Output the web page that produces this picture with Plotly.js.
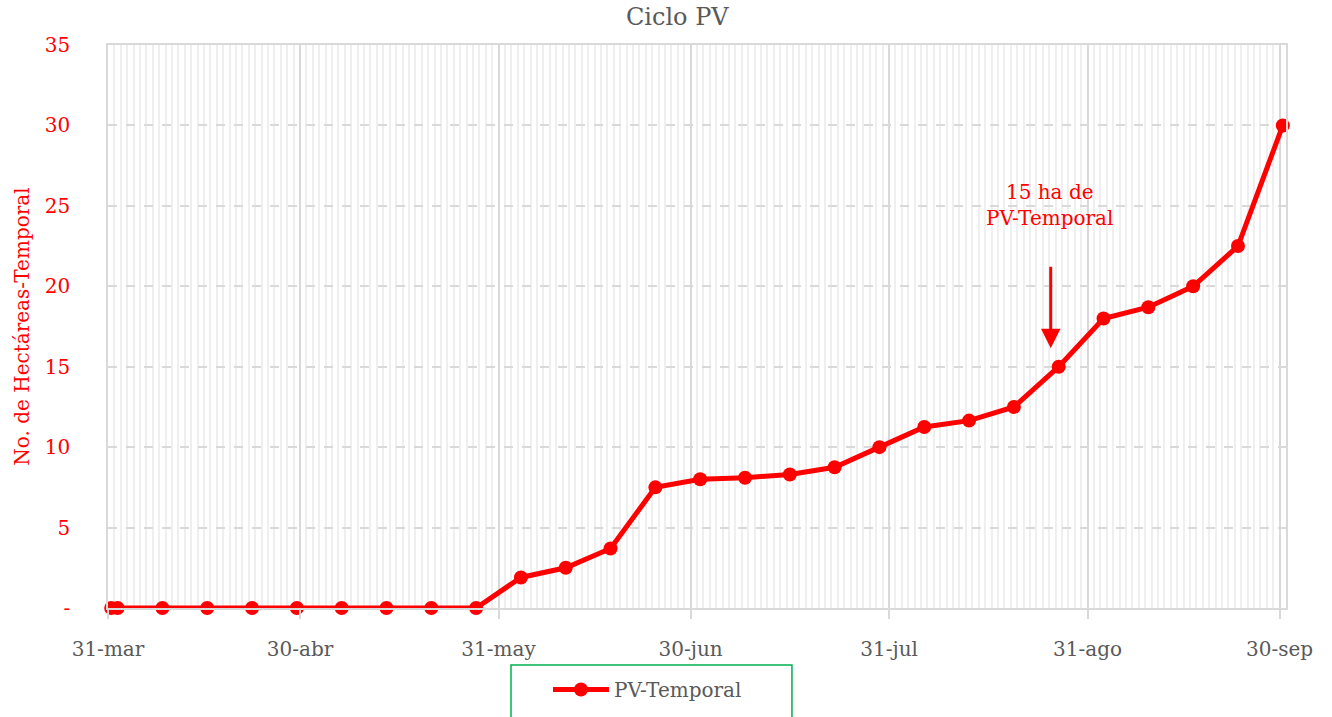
<!DOCTYPE html>
<html>
<head>
<meta charset="utf-8">
<script src="https://cdn.plot.ly/plotly-3.0.1.min.js"></script>
<style>
  html, body { margin: 0; padding: 0; background: #ffffff; }
  #chart { width: 1332px; height: 717px; }
</style>
</head>
<body>
<div id="chart"></div>
<script>
// ---- data ----
const dates = [
  '2023-03-31T12:00', '2023-04-01T12:00', '2023-04-08T12:00', '2023-04-15T12:00',
  '2023-04-22T12:00', '2023-04-29T12:00', '2023-05-06T12:00', '2023-05-13T12:00',
  '2023-05-20T12:00', '2023-05-27T12:00', '2023-06-03T12:00', '2023-06-10T12:00',
  '2023-06-17T12:00', '2023-06-24T12:00', '2023-07-01T12:00', '2023-07-08T12:00',
  '2023-07-15T12:00', '2023-07-22T12:00', '2023-07-29T12:00', '2023-08-05T12:00',
  '2023-08-12T12:00', '2023-08-19T12:00', '2023-08-26T12:00', '2023-09-02T12:00',
  '2023-09-09T12:00', '2023-09-16T12:00', '2023-09-23T12:00', '2023-09-30T12:00'
];
const pvTemporal = [
  0, 0, 0, 0, 0, 0, 0, 0, 0, 0,
  1.9, 2.5, 3.7, 7.5, 8.0, 8.1, 8.3, 8.75, 10.0, 11.25,
  11.65, 12.5, 15.0, 18.0, 18.7, 20.0, 22.5, 30.0
];
const xTickVals = ['2023-03-31', '2023-04-30', '2023-05-31', '2023-06-30', '2023-07-31', '2023-08-31', '2023-09-30'];
const xTickText = ['31-mar', '30-abr', '31-may', '30-jun', '31-jul', '31-ago', '30-sep'];
const yTickVals = [0, 5, 10, 15, 20, 25, 30, 35];
const yTickText = ['-', '5', '10', '15', '20', '25', '30', '35'];

const FONT = 'DejaVu Serif, Liberation Serif, serif';
const RED = '#ff0000';
const GRAY_TXT = '#595959';

const trace = {
  x: dates,
  y: pvTemporal,
  type: 'scatter',
  mode: 'lines+markers',
  name: 'PV-Temporal',
  line: { color: RED, width: 5 },
  marker: { color: RED, size: 14 },
  cliponaxis: false,
  hoverinfo: 'x+y'
};

const layout = {
  width: 1332,
  height: 717,
  paper_bgcolor: '#ffffff',
  plot_bgcolor: '#ffffff',
  margin: { l: 108, r: 46, t: 45, b: 109, autoexpand: false },
  font: { family: FONT, color: GRAY_TXT, size: 20 },
  title: {
    text: 'Ciclo PV',
    font: { family: FONT, size: 24, color: GRAY_TXT },
    x: 0.5085, xanchor: 'center',
    yref: 'container', y: 1 - 17 / 717, yanchor: 'middle'
  },
  xaxis: {
    type: 'date',
    range: ['2023-03-31', '2023-10-01'],
    automargin: false,
    tickmode: 'array',
    tickvals: xTickVals,
    ticktext: xTickText,
    tickfont: { family: FONT, size: 20, color: GRAY_TXT },
    ticks: 'outside',
    ticklen: 9,
    tickwidth: 1.5,
    tickcolor: '#d9d9d9',
    ticklabelstandoff: 13,
    showgrid: true,
    gridcolor: '#d9d9d9',
    gridwidth: 1.5,
    showline: true,
    linecolor: '#d9d9d9',
    linewidth: 1.5,
    mirror: true,
    zeroline: false,
    minor: {
      tick0: '2023-03-31',
      dtick: 86400000,
      showgrid: true,
      gridcolor: '#efefef',
      gridwidth: 1.5,
      ticks: ''
    }
  },
  yaxis: {
    range: [0, 35],
    automargin: false,
    tickmode: 'array',
    tickvals: yTickVals,
    ticktext: yTickText,
    tickfont: { family: FONT, size: 20, color: RED },
    ticks: '',
    ticklabelstandoff: 32,
    showgrid: true,
    gridcolor: '#d9d9d9',
    gridwidth: 1.5,
    griddash: 'dash',
    showline: true,
    linecolor: '#d9d9d9',
    linewidth: 1.5,
    mirror: true,
    zeroline: false,
    title: {
      text: 'No. de Hectáreas-Temporal',
      font: { family: FONT, size: 20, color: RED },
      standoff: 10
    }
  },
  showlegend: true,
  legend: {
    orientation: 'h',
    x: 0.3735, xanchor: 'left',
    y: -0.1101, yanchor: 'top',
    borderwidth: 0,
    bgcolor: 'rgba(0,0,0,0)',
    font: { family: FONT, size: 20, color: GRAY_TXT },
    itemwidth: 56
  },
  shapes: [
    {
      type: 'rect', xref: 'paper', yref: 'paper',
      x0: 0.3421, x1: 0.5806, y0: -0.2167, y1: -0.10124,
      line: { color: '#00b050', width: 1.5 },
      fillcolor: 'rgba(0,0,0,0)',
      layer: 'below'
    }
  ],
  annotations: [
    {
      x: '2023-08-25T06:00', y: 16.15, xref: 'x', yref: 'y',
      text: '', showarrow: true,
      arrowhead: 2, arrowsize: 1.3, arrowwidth: 3, arrowcolor: RED,
      ax: 0, ay: -83, axref: 'pixel', ayref: 'pixel'
    },
    {
      x: '2023-08-25T00:00', y: 25.05, xref: 'x', yref: 'y',
      text: '15 ha de<br>PV-Temporal', showarrow: false,
      font: { family: FONT, size: 20, color: RED },
      align: 'center', xanchor: 'center', yanchor: 'middle'
    }
  ]
};

Plotly.newPlot('chart', [trace], layout, { displayModeBar: false });
</script>
</body>
</html>
